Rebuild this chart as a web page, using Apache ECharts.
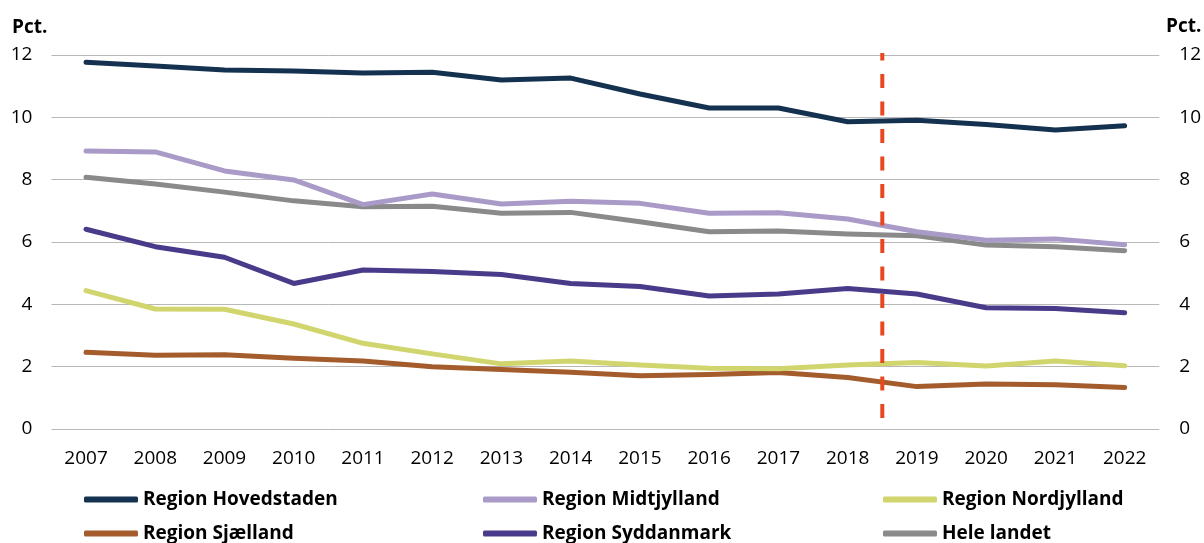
<!DOCTYPE html>
<html>
<head>
<meta charset="utf-8">
<script src="https://cdn.jsdelivr.net/npm/echarts@6/dist/echarts.min.js"></script>
<style>html,body{margin:0;padding:0;background:#fff;}#c{width:1204px;height:543px;}</style>
</head>
<body>
<div id="c"></div>
<script>
const years = ['2007','2008','2009','2010','2011','2012','2013','2014','2015','2016','2017','2018','2019','2020','2021','2022'];
const yTicks = [0, 2, 4, 6, 8, 10, 12];
const hovedstaden = [11.77, 11.65, 11.52, 11.49, 11.42, 11.45, 11.20, 11.26, 10.75, 10.30, 10.30, 9.86, 9.91, 9.77, 9.59, 9.73];
const midtjylland = [8.92, 8.89, 8.28, 7.99, 7.20, 7.54, 7.22, 7.31, 7.24, 6.92, 6.94, 6.74, 6.33, 6.06, 6.10, 5.91];
const nordjylland = [4.44, 3.85, 3.84, 3.37, 2.75, 2.41, 2.09, 2.18, 2.05, 1.95, 1.93, 2.05, 2.13, 2.02, 2.18, 2.03];
const sjaelland = [2.46, 2.37, 2.38, 2.27, 2.18, 2.00, 1.91, 1.82, 1.71, 1.75, 1.81, 1.65, 1.36, 1.44, 1.42, 1.33];
const syddanmark = [6.41, 5.85, 5.51, 4.67, 5.10, 5.05, 4.96, 4.67, 4.57, 4.27, 4.33, 4.51, 4.33, 3.89, 3.87, 3.73];
const heleLandet = [8.08, 7.86, 7.60, 7.32, 7.13, 7.15, 6.92, 6.95, 6.65, 6.33, 6.35, 6.26, 6.20, 5.90, 5.85, 5.72];
// vertical divider between 2018 and 2019 (position on a 0..16 category-slot scale)
const dividerX = 12;
const dividerY = [0.35, 12.15];

const seriesDefs = [
  {name: 'Region Hovedstaden', data: hovedstaden, color: '#14324f'},
  {name: 'Region Midtjylland', data: midtjylland, color: '#a99ac8'},
  {name: 'Region Nordjylland', data: nordjylland, color: '#d1d56e'},
  {name: 'Region Sjælland', data: sjaelland, color: '#a45c2c'},
  {name: 'Region Syddanmark', data: syddanmark, color: '#4a3a8a'},
  {name: 'Hele landet', data: heleLandet, color: '#8a8a8a'}
];
const FONT = '"Open Sans", "Noto Sans", sans-serif';

const series = seriesDefs.map((s, i) => ({
  name: s.name, type: 'line', data: s.data, symbol: 'none',
  z: [8, 4, 5, 3, 6, 2][i],
  lineStyle: {color: s.color, width: 5, cap: 'round', join: 'round'},
  itemStyle: {color: s.color}
}));
series.push({
  name: 'divider', type: 'line', xAxisIndex: 1, yAxisIndex: 0, symbol: 'none', z: 10,
  data: dividerY.map(v => [dividerX, v]),
  lineStyle: {color: '#e8471f', width: 4, type: [14, 13.5], cap: 'butt'}
});

const legendLefts = [84, 483, 883];
const legendTops = [490, 524];
const legends = seriesDefs.map((s, i) => ({
  data: [s.name],
  left: legendLefts[i % 3], top: legendTops[Math.floor(i / 3)],
  padding: 0, icon: 'roundRect', itemWidth: 54, itemHeight: 6,
  textStyle: {fontFamily: FONT, fontSize: 19, fontWeight: 'bold', color: '#000', padding: [0, 0, 0, 0]},
  selectedMode: false
}));

const chart = echarts.init(document.getElementById('c'), null, {renderer: 'canvas'});
chart.setOption({
  animation: false,
  backgroundColor: '#fff',
  grid: {left: 51.4, right: 44.4, top: 55, bottom: 114},
  legend: legends,
  graphic: [
    {type: 'text', left: 12, top: 18, style: {text: 'Pct.', font: 'bold 19px ' + FONT, fill: '#000'}},
    {type: 'text', left: 1166, top: 17, style: {text: 'Pct.', font: 'bold 19px ' + FONT, fill: '#000'}}
  ],
  xAxis: [
    {type: 'category', data: years, boundaryGap: true,
      axisLine: {show: false}, axisTick: {show: false},
      axisLabel: {fontFamily: FONT, fontSize: 19, color: '#000', margin: 20, interval: 0}},
    {type: 'value', min: 0, max: 16, show: false}
  ],
  yAxis: [
    {type: 'value', min: 0, max: 12, interval: 2, position: 'left',
      axisLine: {show: false}, axisTick: {show: false},
      axisLabel: {fontFamily: FONT, fontSize: 19, color: '#000', margin: 19,
        customValues: yTicks},
      splitLine: {lineStyle: {color: '#b8b8b8', width: 1}}},
    {type: 'value', min: 0, max: 12, interval: 2, position: 'right',
      axisLine: {show: false}, axisTick: {show: false},
      axisLabel: {fontFamily: FONT, fontSize: 19, color: '#000', margin: 20, align: 'left'},
      splitLine: {show: false}}
  ],
  series: series
});
</script>
</body>
</html>
